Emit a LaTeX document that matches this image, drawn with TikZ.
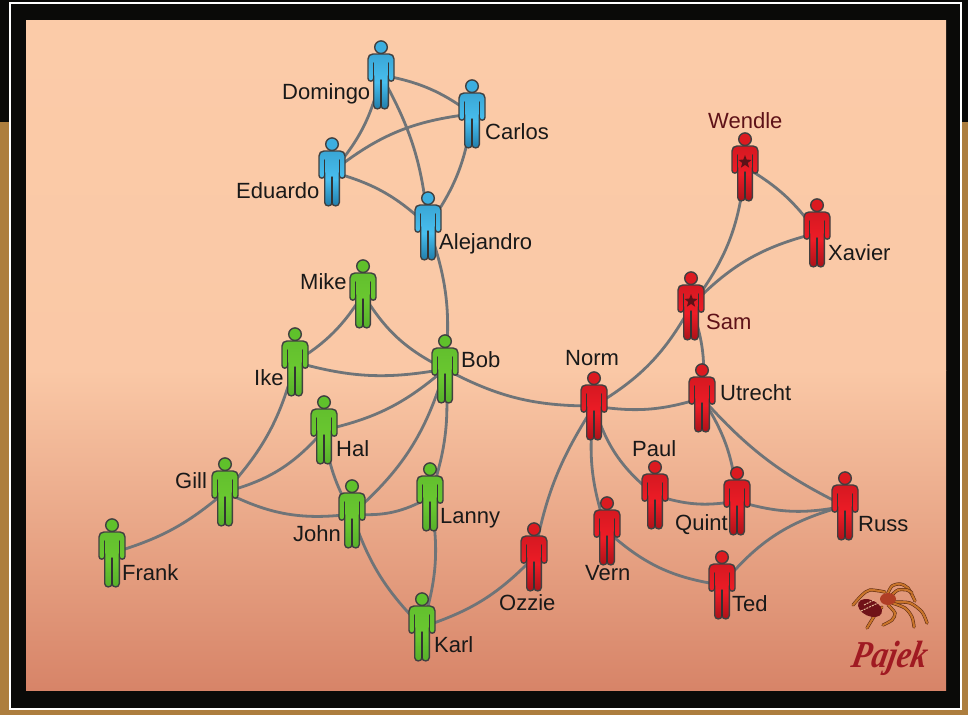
\documentclass[tikz,border=0pt]{standalone}
\usepackage{fontspec}
\setmainfont{Liberation Sans}
\newfontfamily\logofont{Liberation Serif}
\usetikzlibrary{shapes.geometric,calc}
\definecolor{frametan}{HTML}{AD7E3E}
\definecolor{frameblack}{HTML}{0A0A08}
\definecolor{peachtop}{HTML}{FBCBA8}
\definecolor{peachmid}{HTML}{FAC8A6}
\definecolor{peachlow}{HTML}{D78468}
\definecolor{linkgray}{HTML}{6F7478}
\definecolor{blueflat}{HTML}{3CAEDF}
\definecolor{bluein}{HTML}{48BEEE}
\definecolor{blueout}{HTML}{1F7BA8}
\definecolor{greenflat}{HTML}{5FC12B}
\definecolor{greenin}{HTML}{6AC830}
\definecolor{greenout}{HTML}{55AF2A}
\definecolor{redflat}{HTML}{DC1A20}
\definecolor{redin}{HTML}{EE1C26}
\definecolor{redout}{HTML}{A81218}
\definecolor{maroon}{HTML}{5E1218}
\definecolor{legbrown}{HTML}{C8742A}
\definecolor{legdark}{HTML}{5A2810}
\definecolor{logored}{HTML}{A01A22}
\tikzset{
  spot/.style={circle,inner sep=0pt,minimum size=0pt},
  link/.style={draw=linkgray,line width=2.8pt},
  who/.style={anchor=base west,inner sep=0pt,yshift=.8pt,font=\fontsize{22}{22}\selectfont,text=black!90},
  chief/.style={who,text=maroon},
  starmark/.style={star,star points=5,star point ratio=2.4,fill=maroon,inner sep=0pt,minimum size=14pt},
  leg/.style={draw=legdark,line width=3.2pt,line cap=round,
    postaction={draw=legbrown,line width=2.1pt}},
  pics/person/.style n args={3}{code={
    \fill[#1,draw=black!75,line width=1.4pt] (0,-27.8) circle (6.3);
    \shadedraw[top color=#3!35!#2,bottom color=#3,middle color=#2,draw=black!75,line width=1.4pt]
      (-8,-21) -- (8,-21) .. controls (11,-21) and (13,-19) .. (13,-16) -- (13,3.5)
      .. controls (13,7) and (7.3,7) .. (7.3,3.5) -- (7.3,30.5)
      .. controls (7.3,35) and (0,35) .. (0,30.5) .. controls (0,35) and (-7.3,35) .. (-7.3,30.5) -- (-7.3,3.5)
      .. controls (-7.3,7) and (-13,7) .. (-13,3.5) -- (-13,-16) .. controls (-13,-19) and (-11,-21) .. (-8,-21) -- cycle;
    \draw[black!80,line width=1.4pt,line cap=round]
      (-7.3,-12) -- (-7.3,4) (7.3,-12) -- (7.3,4) (0,5) -- (0,31);
  }}
}
\begin{document}
\begin{tikzpicture}[x=1pt,y=-1pt]
\useasboundingbox (0,0) rectangle (968,715);

% frame
\fill[frametan] (0,0) rectangle (968,715);
\fill[frameblack] (0,0) rectangle (968,122);
\fill[frameblack,draw=white,line width=2pt] (9.7,2.5) rectangle (961,709);
\fill[top color=peachtop,bottom color=peachmid] (26,20) rectangle (946,370);
\fill[top color=peachmid,bottom color=peachlow] (26,370) rectangle (946,690);

% people
\foreach \name/\x/\y in {domingo/381/75,carlos/472/114,eduardo/332/172,alejandro/428/226,
  mike/363/294,ike/295/362,bob/445/369,hal/324/430,gill/225/492,john/352/514,lanny/430/497,
  frank/112/553,karl/422/627,ozzie/534/557,norm/594/406,vern/607/531,paul/655/495,quint/737/501,
  ted/722/585,russ/845/506,utrecht/702/398,sam/691/306,wendle/745/167,xavier/817/233}
  \node[spot] (\name) at (\x,\y) {};

% ties
\foreach \a/\b/\c in {domingo/carlos/13,domingo/eduardo/14,domingo/alejandro/12,eduardo/carlos/16,
  carlos/alejandro/14,eduardo/alejandro/14,alejandro/bob/13,
  mike/ike/13,mike/bob/-16,ike/bob/-13,ike/gill/14,hal/bob/-14,gill/hal/-17,hal/john/-11,john/bob/-16,
  lanny/bob/-12,john/lanny/-17,gill/john/-17,frank/gill/-12,john/karl/-13,lanny/karl/14,
  karl/ozzie/-14,bob/norm/-14,
  ozzie/norm/11,norm/vern/-13,norm/paul/-17,norm/utrecht/-13,norm/sam/-15,sam/utrecht/13,
  sam/wendle/-16,sam/xavier/16,wendle/xavier/12,utrecht/quint/14,utrecht/russ/-11,paul/quint/-14,
  quint/russ/-14,vern/ted/-17,ted/russ/18}
  \draw[link] (\a) to[bend left=\c] (\b);

% figures
\foreach \name in {domingo,carlos,eduardo,alejandro}
  \pic at (\name) {person={blueflat}{bluein}{blueout}};
\foreach \name in {mike,ike,bob,hal,gill,john,lanny,frank,karl}
  \pic at (\name) {person={greenflat}{greenin}{greenout}};
\foreach \name in {ozzie,norm,vern,paul,quint,ted,russ,utrecht,sam,wendle,xavier}
  \pic at (\name) {person={redflat}{redin}{redout}};
\node[starmark] (starwendle) at ($(wendle)+(0,-5)$) {};
\node[starmark] (starsam) at ($(sam)+(0,-5)$) {};

% names
\foreach \name/\txt/\x/\y in {ldomingo/Domingo/282/100,lcarlos/Carlos/485/140,leduardo/Eduardo/236/199,
  lalejandro/Alejandro/439/250,lmike/Mike/300/290,like/Ike/254/386,lbob/Bob/461/368,lhal/Hal/336/457,
  lgill/Gill/175/489,ljohn/John/293/542,llanny/Lanny/440/524,lfrank/Frank/122/581,lkarl/Karl/434/653,
  lozzie/Ozzie/499/611,lnorm/Norm/565/366,lvern/Vern/585/581,lpaul/Paul/632/457,lquint/Quint/675/531,
  lted/Ted/732/612,lruss/Russ/858/532,lutrecht/Utrecht/720/401,lxavier/Xavier/828/261}
  \node[who] (\name) at (\x,\y) {\txt};
\node[chief] (lsam) at (706,330) {Sam};
\node[chief] (lwendle) at (708,129) {Wendle};

% logo
\draw[leg] plot[smooth] coordinates {(885,592) (870,590) (862,595) (853,605)};
\draw[leg] plot[smooth] coordinates {(888,593) (892,586) (900,584) (908,588) (915,601)};
\draw[leg] plot[smooth] coordinates {(892,595) (898,590) (907,590) (912,593)};
\draw[leg] plot[smooth] coordinates {(895,602) (910,603) (922,612) (927,623)};
\draw[leg] plot[smooth] coordinates {(892,603) (905,608) (912,617) (914,627)};
\draw[leg] plot[smooth] coordinates {(888,605) (895,613) (892,620) (883,625)};
\draw[leg] plot[smooth] coordinates {(882,607) (875,615) (867,628)};
\fill[logored!70!black,rotate around={-25:(870,608)}] (870,608) ellipse (12.7 and 8);
\draw[legbrown!50!white,line width=1pt,dash pattern=on 2pt off 1pt] (861,611) -- (878,603) (864,605) -- (874,600);
\fill[logored!60!legbrown] (888,599) ellipse (8 and 6);
\node[anchor=base,inner sep=0pt,text=logored,font=\logofont\itshape\bfseries\fontsize{38}{38}\selectfont,xslant=.2,xscale=.84,transform shape] (pajek) at (888,667) {Pajek};
\end{tikzpicture}
\end{document}
